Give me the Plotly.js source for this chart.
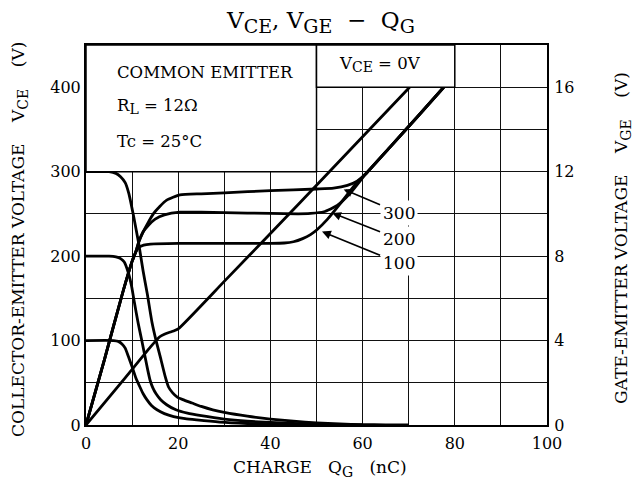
<!DOCTYPE html>
<html>
<head>
<meta charset="utf-8">
<script src="https://cdn.plot.ly/plotly-3.0.1.min.js"></script>
<style>html,body{margin:0;padding:0;background:#fff;}#chart{width:644px;height:491px;}</style>
</head>
<body>
<div id="chart"></div>
<script>
// ---- data (charge Qg in nC) ----
const xTickVals = [0,10,20,30,40,50,60,70,80,90,100];
const xTickText = ['0','','20','','40','','60','','80','','100'];
const yTickVals = [0,50,100,150,200,250,300,350,400,450];
const yTickText = ['0','','100','','200','','300','','400',''];
const y2TickVals = [0,4,8,12,16];
const y2TickText = ['0','4','8','12','16'];

// collector-emitter voltage VCE (V), left axis
const vce300Q = [0,5,6.5,7.5,8.5,9.3,10.3,11.4,12.4,13.3,14.3,15.2,16.1,17.2,17.9,18.8,19.8,21,23,25,27.5,30,35,40,45,50,55,60,65,70];
const vce300V = [300,300,298,294,287,274,248,216,182,155,122,100,81,57,45,38,33,30,26,22,18,15,10.5,7,4.5,2.5,1.2,0.5,0.2,0];
const vce200Q = [0,5,6.5,7.5,8.3,9.2,9.9,10.5,11.3,12.1,12.8,13.4,13.9,14.5,15.2,16.2,17.5,19.5,22,25,30,35,40,45,50,55,60];
const vce200V = [200,200,199,197,193,180,164,145,121,100,81,65,53,44,37,30,24,18,14,11,7,4.5,3,1.8,1,0.4,0];
const vce100Q = [0,6,7,7.8,8.5,9.2,10,10.8,11.7,12.4,13.2,14.2,15.4,17,19,21.5,24,29,35,40,50];
const vce100V = [100,100,99,96,91,81,69,56,45,37,30,23,18,13.5,10,7.5,6,3.5,1.8,1,0];

// gate-emitter voltage VGE (V), right axis
const vge100Q = [0,4,8,10,10.8,11.5,12.5,14,20,30,40,43,45,47,48.7,50.1,52.3,55.2,58.8,60.7,66.1,71.9,77.6];
const vge100V = [0,3.1,6.3,7.75,8.2,8.42,8.52,8.57,8.6,8.6,8.6,8.62,8.68,8.83,9.02,9.25,9.73,10.5,11.5,11.9,13.2,14.6,16];
const vge200Q = [0,4,8,10,10.8,11.5,12.4,13.5,15,17,20.4,25,30,40,46,48.7,51.6,54.5,57.4,60.7,66.1,71.9,77.6];
const vge200V = [0,3.1,6.3,7.75,8.2,8.7,9.15,9.45,9.75,9.95,10.08,10.08,10.06,10.02,10.0,10.02,10.1,10.4,11.0,11.9,13.2,14.6,16];
const vge300Q = [0,4,8,10,10.8,11.5,12.4,13.5,14.6,16,17.5,20.4,25,30,40,50,53.7,56.7,58.8,60.7,66.1,71.9,77.6];
const vge300V = [0,3.1,6.3,7.75,8.2,8.7,9.15,9.6,10.0,10.35,10.65,10.9,10.95,11.0,11.1,11.18,11.22,11.35,11.55,11.9,13.2,14.6,16];
const vge0Q = [0,8,14,16,17,18,19,20,30.2,46.5,70.2];
const vge0V = [0,2.1,3.7,4.18,4.3,4.38,4.45,4.55,6.85,10.55,16];

const curveLabels = ['300','200','100'];

// ---- plot ----
const SERIF = 'DejaVu Serif, Liberation Serif, serif';
const lineStyle = {color:'#000', width:2.8, shape:'spline', smoothing:0.5};
function tr(x, y, axis) {
  return {x:x, y:y, yaxis:axis, type:'scatter', mode:'lines', line:lineStyle, hoverinfo:'skip', showlegend:false};
}
const traces = [
  tr(vce300Q, vce300V, 'y'), tr(vce200Q, vce200V, 'y'), tr(vce100Q, vce100V, 'y'),
  tr(vge100Q, vge100V, 'y2'), tr(vge200Q, vge200V, 'y2'), tr(vge300Q, vge300V, 'y2'),
  tr(vge0Q, vge0V, 'y2')
];

const W = 461, H = 380, L = 86, T = 45;
function px(xp){ return (xp - L)/W; }
function py(yp){ return (T + H - yp)/H; }
function sub(s, size){ return '<sub><span style="font-size:' + size + 'px">' + s + '</span></sub>'; }
const NB = '\u00a0';

const annotations = [
  {xref:'paper', yref:'paper', x:px(320), y:py(22), xanchor:'center', yanchor:'middle', text:'V' + sub('CE',19) + ', V' + sub('GE',19) + NB+NB+'−'+NB+NB+'Q' + sub('G',19), showarrow:false, font:{family:SERIF, size:23, color:'#000'}},
  {xref:'paper', yref:'paper', x:px(20), y:py(240), xanchor:'center', yanchor:'middle', textangle:-90, text:'COLLECTOR-EMITTER VOLTAGE' + NB.repeat(4) + 'V' + sub('CE',14) + NB.repeat(4) + '(V)', showarrow:false, font:{family:SERIF, size:17, color:'#000'}},
  {xref:'paper', yref:'paper', x:px(622), y:py(238), xanchor:'center', yanchor:'middle', textangle:-90, text:'GATE-EMITTER VOLTAGE' + NB.repeat(4) + 'V' + sub('GE',14) + NB.repeat(4) + '(V)', showarrow:false, font:{family:SERIF, size:17, color:'#000'}},
  {xref:'paper', yref:'paper', x:px(320), y:py(468), xanchor:'center', yanchor:'middle', text:'CHARGE' + NB.repeat(3) + 'Q' + sub('G',14) + NB.repeat(3) + '(nC)', showarrow:false, font:{family:SERIF, size:17, color:'#000'}},
  {xref:'x', yref:'y', x:6.3, y:418, xanchor:'left', yanchor:'middle', text:'COMMON EMITTER', showarrow:false, font:{family:SERIF, size:16.5, color:'#000'}},
  {xref:'x', yref:'y', x:6.3, y:377, xanchor:'left', yanchor:'middle', text:'R' + sub('L',14) + ' = 12Ω', showarrow:false, font:{family:SERIF, size:16.5, color:'#000'}},
  {xref:'x', yref:'y', x:6.3, y:336, xanchor:'left', yanchor:'middle', text:'Tc = 25°C', showarrow:false, font:{family:SERIF, size:16.5, color:'#000'}},
  {xref:'x', yref:'y', x:63.8, y:427, xanchor:'center', yanchor:'middle', text:'V' + sub('CE',14) + ' = 0V', showarrow:false, font:{family:SERIF, size:16.5, color:'#000'}},
];
const labelTips = [[55.9,279],[53.4,251],[51.2,229]];
const labelPos = [[67.8,251.6],[67.8,220.4],[67.8,192]];
curveLabels.forEach((t,i)=>{
  annotations.push({xref:'x', yref:'y', axref:'x', ayref:'y', x:labelTips[i][0], y:labelTips[i][1], ax:labelPos[i][0], ay:labelPos[i][1],
    text:t, showarrow:true, arrowhead:2, arrowsize:1.1, arrowwidth:1.6, arrowcolor:'#000', standoff:0, startstandoff:0,
    bgcolor:'#fff', borderpad:2, font:{family:SERIF, size:17, color:'#000'}});
});

const shapes = [
  {type:'rect', xref:'x', yref:'y', x0:0, x1:50, y0:300, y1:450, fillcolor:'#fff', line:{color:'#000', width:1.5}, layer:'above'},
  {type:'rect', xref:'x', yref:'y', x0:50, x1:80, y0:400, y1:450, fillcolor:'#fff', line:{color:'#000', width:1.5}, layer:'above'}
];

const axisCommon = {showline:true, linecolor:'#000', linewidth:2, mirror:true, ticks:'', zeroline:false,
  tickfont:{family:SERIF, size:16, color:'#000'}, fixedrange:true};

const layout = {
  width:644, height:491,
  margin:{l:L, r:644-L-W, t:T, b:491-T-H, pad:0},
  paper_bgcolor:'#fff', plot_bgcolor:'#fff',
  showlegend:false,
  xaxis:Object.assign({}, axisCommon, {range:[0,100], tickmode:'array', tickvals:xTickVals, ticktext:xTickText,
    showgrid:true, gridcolor:'#111', gridwidth:1, ticklabelstandoff:3}),
  yaxis:Object.assign({}, axisCommon, {range:[0,450], tickmode:'array', tickvals:yTickVals, ticktext:yTickText,
    showgrid:true, gridcolor:'#111', gridwidth:1}),
  yaxis2:Object.assign({}, axisCommon, {range:[0,18], overlaying:'y', side:'right', tickmode:'array', tickvals:y2TickVals, ticktext:y2TickText,
    showgrid:false, mirror:false, ticklabelstandoff:2}),
  annotations:annotations,
  shapes:shapes
};

Plotly.newPlot('chart', traces, layout, {staticPlot:true, displayModeBar:false});
</script>
</body>
</html>
